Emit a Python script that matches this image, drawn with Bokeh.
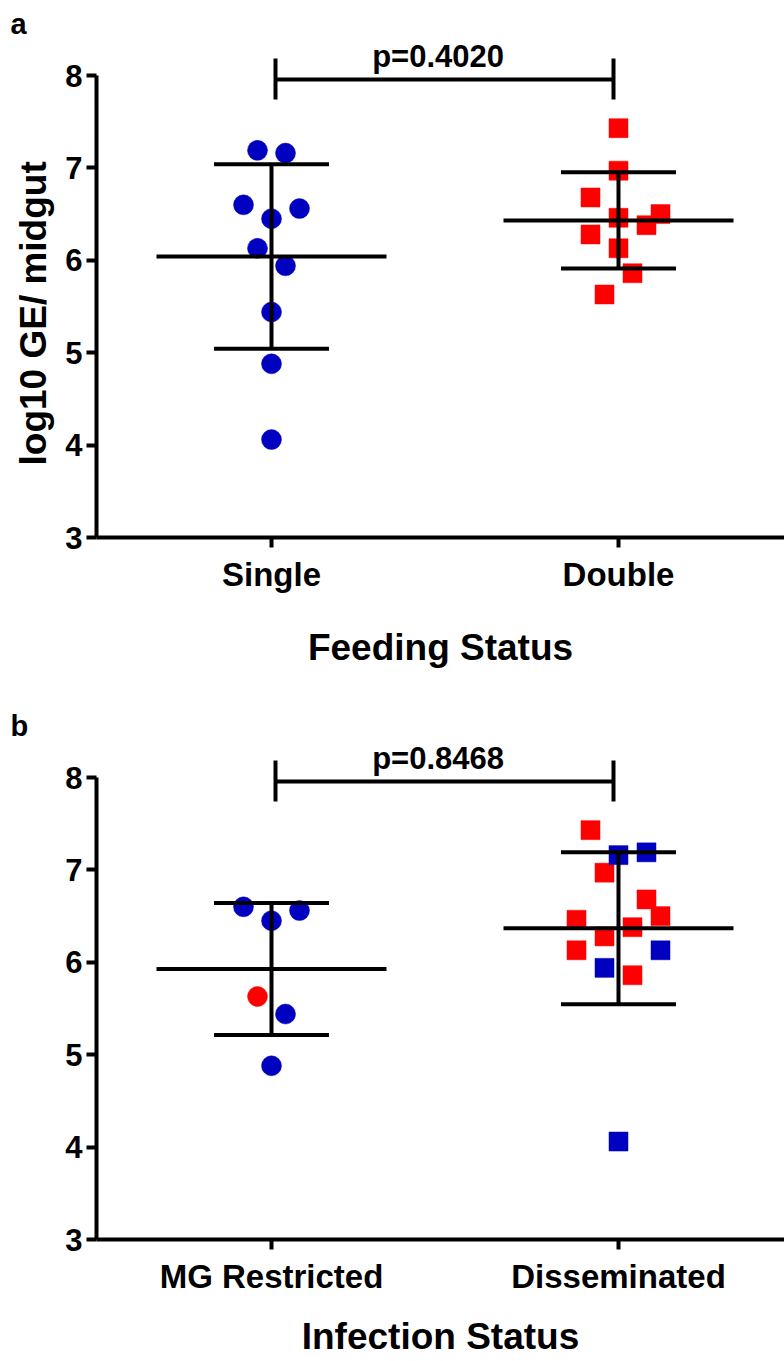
import numpy as np
from bokeh.plotting import figure
from bokeh.layouts import column
from bokeh.models import Range1d, FixedTicker, Title
from bokeh.core.properties import value
from bokeh.embed import file_html
from bokeh.resources import INLINE

# ---------------- data ----------------
feeding_categories = ["Single", "Double"]
single_values = [7.19, 7.16, 6.60, 6.56, 6.45, 6.13, 5.94, 5.44, 4.88, 4.06]
double_values = [7.43, 6.97, 6.68, 6.50, 6.46, 6.38, 6.28, 6.13, 5.86, 5.63]

infection_categories = ["MG Restricted", "Disseminated"]
mg_single_values = [6.60, 6.56, 6.45, 5.44, 4.88]
mg_double_values = [5.63]
diss_single_values = [7.19, 7.16, 6.13, 5.94, 4.06]
diss_double_values = [7.43, 6.97, 6.68, 6.50, 6.46, 6.38, 6.28, 6.13, 5.86]

p_value_labels = ["p=0.4020", "p=0.8468"]
y_ticks = [3, 4, 5, 6, 7, 8]

# horizontal scatter offsets (layout, in jitter steps)
single_dx = [-1, 1, -2, 2, 0, -1, 1, 0, 0, 0]
double_dx = [0, 0, -2, 3, 0, 2, -2, 0, 1, -1]
mg_single_dx = [-2, 2, 0, 1, 0]
mg_double_dx = [-1]
diss_single_dx = [2, 0, 3, -1, 0]
diss_double_dx = [-2, -1, 2, 3, -3, 1, -1, -3, 1]

# ---------------- styles / layout ----------------
BLUE = "#0000C0"
RED = "#FF0000"
FONT = "Liberation Sans"
PX_X = 347.0      # pixels per x unit
PX_Y = 92.4       # pixels per y unit
JIT = 14.0 / PX_X
LEFT = 96
TOP = 40
X_START = 1 - 175.0 / PX_X
X_END = 2 + 166.0 / PX_X
Y_START, Y_END = 3.0, 8.0 + 35.0 / PX_Y


def make_panel(letter, categories, groups, pval, xlabel, ylabel, height,
               border_bottom, title_standoff):
    p = figure(width=784, height=height, output_backend="svg",
               toolbar_location=None, x_range=Range1d(X_START, X_END),
               y_range=Range1d(Y_START, Y_END),
               min_border_left=LEFT, min_border_right=0, min_border_top=TOP,
               min_border_bottom=border_bottom)
    p.outline_line_color = None
    p.grid.visible = False
    p.background_fill_color = "white"
    p.border_fill_color = "white"

    # panel letter
    p.title = Title(text=letter, align="left", offset=-86, standoff=2,
                    text_font=FONT, text_font_style="bold",
                    text_font_size="29px", text_color="black")

    # points
    per_cat = {1: [], 2: []}
    for cat, vals, dx, color, marker in groups:
        xs = [cat + d * JIT for d in dx]
        p.scatter(xs, vals, marker=marker, size=20 if marker == "circle" else 19,
                  fill_color=color, line_color=color, line_width=0.5)
        per_cat[cat].extend(vals)

    # mean and SD
    for cat in (1, 2):
        v = np.array(per_cat[cat])
        m = v.mean()
        s = v.std(ddof=1)
        p.segment(x0=[cat - 115 / PX_X, cat - 57.5 / PX_X, cat - 57.5 / PX_X, cat],
                  y0=[m, m + s, m - s, m - s],
                  x1=[cat + 115 / PX_X, cat + 57.5 / PX_X, cat + 57.5 / PX_X, cat],
                  y1=[m, m + s, m - s, m + s],
                  line_color="black", line_width=4)

    # significance bracket
    yb = 8.0 - 4.0 / PX_Y
    p.segment(x0=[1 + 4 / PX_X, 1 + 4 / PX_X, 2 - 5 / PX_X],
              y0=[yb, 8.0 - 24 / PX_Y, 8.0 - 24 / PX_Y],
              x1=[2 - 5 / PX_X, 1 + 4 / PX_X, 2 - 5 / PX_X],
              y1=[yb, 8.0 + 17 / PX_Y, 8.0 + 17 / PX_Y],
              line_color="black", line_width=4)
    p.text(x=[1.48], y=[8.0 + 19 / PX_Y], text=[pval],
           text_font=value(FONT), text_font_style="bold", text_font_size="31px",
           text_align="center", text_baseline="middle", text_color="black")

    # axes
    xa = p.xaxis[0]
    xa.ticker = FixedTicker(ticks=[1, 2])
    xa.major_label_overrides = {1: categories[0], 2: categories[1]}
    xa.axis_label = xlabel
    ya = p.yaxis[0]
    ya.ticker = FixedTicker(ticks=y_ticks)
    ya.bounds = (3, 8)
    for ax in (xa, ya):
        ax.axis_line_width = 4
        ax.axis_line_color = "black"
        ax.major_tick_line_width = 4
        ax.major_tick_line_color = "black"
        ax.major_tick_out = 10
        ax.major_tick_in = 0
        ax.minor_tick_line_color = None
        ax.major_label_text_font = FONT
        ax.major_label_text_font_style = "bold"
        ax.major_label_text_color = "black"
        ax.axis_label_text_font = FONT
        ax.axis_label_text_font_style = "bold"
        ax.axis_label_text_font_size = "37px"
        ax.axis_label_text_color = "black"
    xa.major_label_text_font_size = "33px"
    xa.major_label_standoff = 8
    xa.axis_label_standoff = title_standoff
    ya.major_label_text_font_size = "31px"
    ya.major_label_standoff = 4

    if ylabel:
        p.add_layout(Title(text=ylabel, align="left", offset=72, standoff=18,
                           text_font=FONT, text_font_style="bold",
                           text_font_size="37px", text_color="black"), "left")
    return p


pa = make_panel(
    "a", feeding_categories,
    [(1, single_values, single_dx, BLUE, "circle"),
     (2, double_values, double_dx, RED, "square")],
    p_value_labels[0], "Feeding Status", "log10 GE/ midgut",
    height=702, border_bottom=165, title_standoff=31)

pb = make_panel(
    "b", infection_categories,
    [(1, mg_single_values, mg_single_dx, BLUE, "circle"),
     (1, mg_double_values, mg_double_dx, RED, "circle"),
     (2, diss_double_values, diss_double_dx, RED, "square"),
     (2, diss_single_values, diss_single_dx, BLUE, "square")],
    p_value_labels[1], "Infection Status", None,
    height=659, border_bottom=122, title_standoff=18)

layout = column(pa, pb, spacing=0)
open("out.html", "w").write(file_html(layout, INLINE))
